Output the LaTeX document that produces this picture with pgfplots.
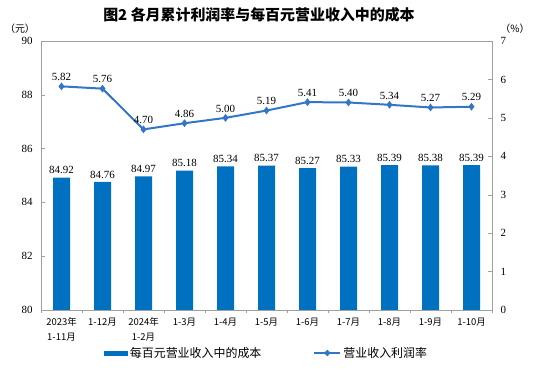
\documentclass[border=0pt]{standalone}
\usepackage{pgfplots}
\pgfplotsset{compat=1.18}
\usepackage{fontspec}
\setmainfont{Liberation Serif}
\newfontfamily\cjk{Noto Sans CJK SC}
\definecolor{barblue}{RGB}{0,112,192}
\definecolor{lineblue}{RGB}{52,118,198}
\definecolor{axisgray}{RGB}{160,160,160}
\begin{document}
\begin{tikzpicture}
\path[use as bounding box] (0,0) rectangle (534bp,373bp);
\node[font=\cjk\bfseries\fontsize{15}{16}\selectfont] at (259bp,358bp) {图2\ 各月累计利润率与每百元营业收入中的成本};
\node[font=\cjk\fontsize{10}{12}\selectfont] at (20bp,344bp) {（元）};
\node[font=\cjk\fontsize{10}{12}\selectfont] at (515bp,344bp) {（\%）};
\begin{axis}[
  at={(41bp,63bp)}, anchor=south west, scale only axis,
  width=451bp, height=269bp,
  xmin=-0.5, xmax=10.5, ymin=80, ymax=90,
  ytick={80,82,...,90},
  axis line style={axisgray},
  every tick/.style={axisgray},
  tick align=inside,
  ytick pos=left,
  xtick={0,...,10},
  xticklabels={{2023年\\1-11月},{1-12月},{2024年\\1-2月},{1-3月},{1-4月},{1-5月},{1-6月},{1-7月},{1-8月},{1-9月},{1-10月}},
  major x tick style={draw=none},
  minor xtick={-0.5,0.5,...,10.5},
  xtick pos=bottom,
  x tick label style={align=center, font=\cjk\fontsize{9.5}{15}\selectfont},
  y tick label style={font=\fontsize{11}{12}\selectfont},
  /pgf/number format/assume math mode=true,
  yticklabel style={xshift=-5bp},
  ybar, bar width=17bp,
  nodes near coords,
  nodes near coords style={text=black, font=\fontsize{11}{12}\selectfont, /pgf/number format/fixed, /pgf/number format/precision=2, /pgf/number format/fixed zerofill},
  legend style={draw=none, at={(0.50,-0.16)}, anchor=center, legend columns=2,
    font=\cjk\fontsize{12}{13}\selectfont,
    /tikz/every even column/.append style={column sep=50bp}},
]
\addplot[fill=barblue, draw=none, area legend,
  legend image code/.code={\fill[barblue] (0bp,-2.5bp) rectangle (24bp,2.5bp);}]
  coordinates {(0,84.92) (1,84.76) (2,84.97) (3,85.18) (4,85.34) (5,85.37) (6,85.27) (7,85.33) (8,85.39) (9,85.38) (10,85.39)};
\addlegendentry{每百元营业收入中的成本}
\addlegendimage{legend image code/.code={\draw[lineblue, line width=2bp] (0bp,0bp) -- (26bp,0bp); \fill[lineblue] (13bp,0bp) ++(-3bp,0) -- ++(3bp,3bp) -- ++(3bp,-3bp) -- ++(-3bp,-3bp) -- cycle;}}
\addlegendentry{营业收入利润率}
\end{axis}
\begin{axis}[
  at={(41bp,63bp)}, anchor=south west, scale only axis,
  width=451bp, height=269bp,
  xmin=-0.5, xmax=10.5, ymin=0, ymax=7,
  ytick={0,...,7},
  hide x axis,
  axis line style={axisgray},
  every tick/.style={axisgray},
  tick align=inside,
  ytick pos=right,
  y tick label style={font=\fontsize{11}{12}\selectfont},
  /pgf/number format/assume math mode=true,
  yticklabel style={xshift=5bp},
  nodes near coords,
  nodes near coords style={text=black, font=\fontsize{11}{12}\selectfont, /pgf/number format/fixed, /pgf/number format/precision=2, /pgf/number format/fixed zerofill, yshift=2bp},
]
\addplot[lineblue, line width=2bp, mark=diamond*, mark size=3.5bp, mark options={fill=lineblue, line width=0.5bp}]
  coordinates {(0,5.82) (1,5.76) (2,4.70) (3,4.86) (4,5.00) (5,5.19) (6,5.41) (7,5.40) (8,5.34) (9,5.27) (10,5.29)};
\end{axis}
\end{tikzpicture}
\end{document}
